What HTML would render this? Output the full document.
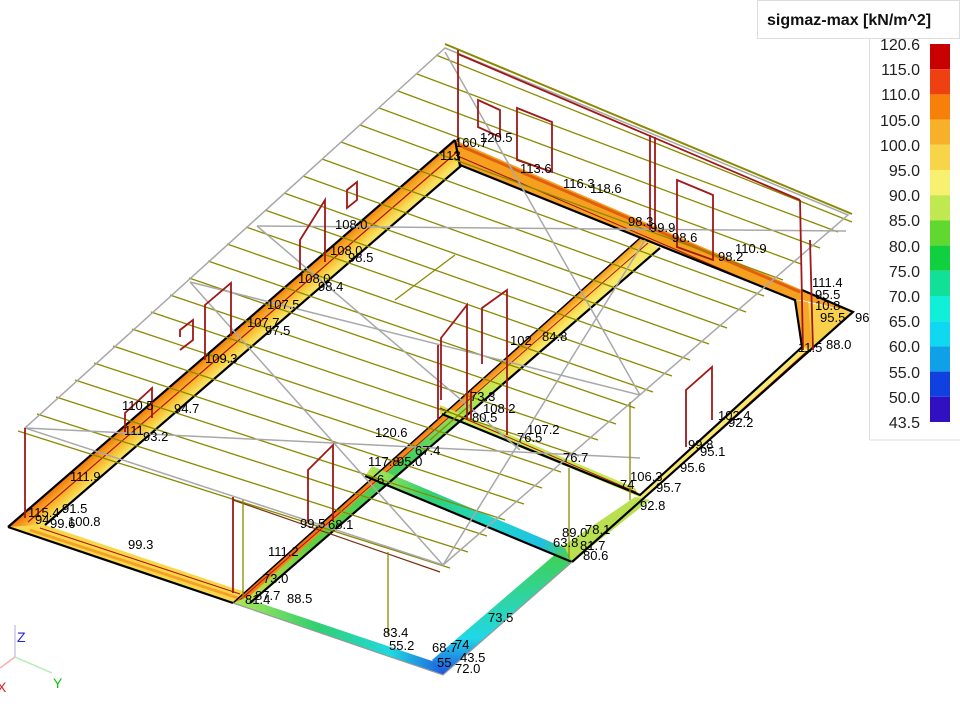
<!DOCTYPE html>
<html><head><meta charset="utf-8"><style>
html,body{margin:0;padding:0;background:#fff;}
svg{display:block;font-family:"Liberation Sans",sans-serif;}
.l{font-size:13px;fill:#000;}
.lg{font-size:16px;fill:#222;}
</style></head><body>
<svg width="960" height="720" viewBox="0 0 960 720" xmlns="http://www.w3.org/2000/svg">
<defs>
<linearGradient id="gL" gradientUnits="userSpaceOnUse" x1="230" y1="333" x2="244" y2="349"><stop offset="0" stop-color="#f07010"/><stop offset="0.35" stop-color="#f6a020"/><stop offset="0.7" stop-color="#f8c438"/><stop offset="1" stop-color="#f8e060"/></linearGradient>
<linearGradient id="gM" gradientUnits="userSpaceOnUse" x1="436" y1="420" x2="448" y2="433"><stop offset="0" stop-color="#f07010"/><stop offset="0.4" stop-color="#f6a828"/><stop offset="0.7" stop-color="#f8d448"/><stop offset="1" stop-color="#f8e868"/></linearGradient>
<linearGradient id="gMg" gradientUnits="userSpaceOnUse" x1="520" y1="335" x2="250" y2="590"><stop offset="0" stop-color="#f8e060" stop-opacity="0"/><stop offset="0.15" stop-color="#c8e850"/><stop offset="0.45" stop-color="#40d060"/><stop offset="0.8" stop-color="#60d040"/><stop offset="1" stop-color="#c0e050"/></linearGradient>
<linearGradient id="gB" x1="0" y1="0" x2="1" y2="0"><stop offset="0" stop-color="#c0e850"/><stop offset="0.3" stop-color="#30d070"/><stop offset="0.6" stop-color="#20d8d0"/><stop offset="0.85" stop-color="#20c0e0"/><stop offset="1" stop-color="#50d050"/></linearGradient>
<linearGradient id="gBL" x1="0" y1="0" x2="1" y2="0"><stop offset="0" stop-color="#b0e858"/><stop offset="0.4" stop-color="#30d070"/><stop offset="0.75" stop-color="#20d8e0"/><stop offset="1" stop-color="#2060e0"/></linearGradient>
<linearGradient id="gR" x1="0" y1="1" x2="0" y2="0"><stop offset="0" stop-color="#2050e0"/><stop offset="0.3" stop-color="#20d8e8"/><stop offset="1" stop-color="#40d050"/></linearGradient>
</defs>

<!-- FOUNDATION STRIPS -->
<polygon points="8,527 455,140 462,165 45,525" fill="url(#gL)"/>
<line x1="28" y1="522" x2="457" y2="152" stroke="#b01010" stroke-width="1.2"/>
<polygon points="8,527 233,603 245,592 45,525" fill="#f8d848"/>
<line x1="30" y1="530" x2="238" y2="598" stroke="#f6a02a" stroke-width="3"/>
<line x1="40" y1="528" x2="240" y2="594" stroke="#b01010" stroke-width="1"/>
<polygon points="455,140 802,290 853,312 802,300 795,300 460,165" fill="#f6a020"/>
<line x1="456" y1="144" x2="800" y2="292" stroke="#e06010" stroke-width="3"/>
<line x1="460" y1="157" x2="798" y2="302" stroke="#a01010" stroke-width="1"/>
<polygon points="795,300 853,312 808,350 802,347" fill="#f8d04a"/>
<polygon points="795,300 808,302 812,348 802,347" fill="#f6a828"/>
<polygon points="853,312 572,562 560,548 640,495 802,347 808,350" fill="#f6e870"/>
<line x1="806" y1="352" x2="645" y2="497" stroke="#b01010" stroke-width="1"/>
<polygon points="572,562 560,548 635,497 650,500" fill="#b8e050"/>
<!-- middle strip -->
<polygon points="233,603 640,238 660,248 250,603" fill="url(#gM)"/>
<polygon points="242,603 644,242 660,248 250,603" fill="url(#gMg)"/>
<line x1="240" y1="600" x2="648" y2="243" stroke="#b01010" stroke-width="1"/>
<polygon points="440,405 635,488 640,497 440,414" fill="#c8e850"/>
<line x1="440" y1="408" x2="636" y2="492" stroke="#b01010" stroke-width="1"/>
<polygon points="372,466 565,548 572,562 365,476" fill="url(#gB)"/>
<polygon points="572,562 443,675 432,660 558,552" fill="url(#gR)"/>
<polygon points="443,675 233,603 245,598 435,662" fill="url(#gBL)"/>

<g stroke="#000" stroke-width="2.2" fill="none">
<polyline points="8,527 455,140"/>
<polyline points="8,527 233,603"/>
<polyline points="460,165 795,300 802,347 640,495 442,414"/>
<polyline points="460,166 455,140"/>
<polyline points="802,290 853,312 572,562"/>
<polyline points="45,525 462,165"/>
<polyline points="250,603 660,248"/>
<polyline points="365,476 572,562"/>
<polyline points="233,603 640,238" stroke-width="1.5"/>
</g>
<g stroke="#999" stroke-width="1.2" fill="none">
<polyline points="233,603 443,675 572,562"/>
</g>

<g stroke="#8a8a00" stroke-width="1.3">
<line x1="18" y1="431" x2="450" y2="568"/>
<line x1="37" y1="414" x2="468" y2="552"/>
<line x1="56" y1="397" x2="487" y2="536"/>
<line x1="75" y1="380" x2="505" y2="520"/>
<line x1="94" y1="363" x2="524" y2="504"/>
<line x1="113" y1="346" x2="542" y2="488"/>
<line x1="132" y1="329" x2="561" y2="472"/>
<line x1="151" y1="312" x2="579" y2="456"/>
<line x1="170" y1="295" x2="598" y2="440"/>
<line x1="189" y1="278" x2="616" y2="424"/>
<line x1="208" y1="261" x2="635" y2="408"/>
<line x1="227" y1="244" x2="653" y2="392"/>
<line x1="246" y1="227" x2="672" y2="376"/>
<line x1="265" y1="210" x2="690" y2="360"/>
<line x1="284" y1="193" x2="709" y2="344"/>
<line x1="303" y1="176" x2="727" y2="328"/>
<line x1="322" y1="159" x2="746" y2="312"/>
<line x1="341" y1="142" x2="764" y2="296"/>
<line x1="360" y1="125" x2="783" y2="280"/>
<line x1="379" y1="108" x2="801" y2="264"/>
<line x1="398" y1="91" x2="820" y2="248"/>
<line x1="417" y1="74" x2="838" y2="232"/>
<line x1="436" y1="55" x2="852" y2="222"/>
<line x1="395" y1="300" x2="455" y2="255"/>
<line x1="430" y1="440" x2="470" y2="405"/>
</g>
<g stroke="#a8a8a8" stroke-width="1.5" fill="none">
<polygon points="445,48 848,215 443,565 25,428"/>
<line x1="445" y1="52" x2="640" y2="395"/>
<line x1="257" y1="226" x2="846" y2="231"/>
<line x1="190" y1="282" x2="443" y2="565"/>
<line x1="190" y1="282" x2="640" y2="395"/>
<line x1="25" y1="428" x2="640" y2="458"/>
<line x1="257" y1="226" x2="520" y2="450"/>
<line x1="443" y1="565" x2="645" y2="240"/>
</g>
<line x1="233" y1="500" x2="440" y2="572" stroke="#7a3010" stroke-width="1.2"/>
<line x1="445" y1="44" x2="852" y2="214" stroke="#8a8a00" stroke-width="2"/>

<g stroke="#a01818" stroke-width="1.8" fill="none">
<line x1="458" y1="50" x2="458" y2="142"/>
<line x1="458" y1="54" x2="800" y2="200"/>
<line x1="800" y1="200" x2="803" y2="350"/>
<line x1="810" y1="240" x2="813" y2="350"/>
<line x1="650" y1="135" x2="650" y2="230"/>
<line x1="655" y1="137" x2="655" y2="230"/>
<line x1="25" y1="428" x2="25" y2="518"/>
<line x1="233" y1="497" x2="233" y2="593"/>
<line x1="438" y1="420" x2="438" y2="345"/>
<polygon points="478,100 500,110 500,137 478,127"/>
<polygon points="517,108 552,122 552,172 517,160"/>
<polygon points="677,180 713,195 713,260 677,247"/>
<polygon points="347,190 357,182 357,200 347,208"/>
<polyline points="300,270 300,240 325,200 325,262"/>
<polyline points="180,337 180,330 193,320 193,340 180,350"/>
<polyline points="205,360 205,305 231,283 231,336"/>
<polyline points="125,432 125,413 152,388 152,418"/>
<polyline points="308,522 308,470 333,445 333,520"/>
<polyline points="441,400 441,338 467,305 467,420"/>
<polyline points="482,364 482,308 507,290 507,435"/>
<polyline points="686,447 686,390 712,367 712,420"/>
<line x1="471" y1="390" x2="471" y2="420"/>
</g>
<g stroke="#8a8a00" stroke-width="1.3">
<line x1="243" y1="500" x2="243" y2="598"/>
<line x1="388" y1="552" x2="388" y2="635"/>
<line x1="630" y1="402" x2="630" y2="500"/>
<line x1="569" y1="468" x2="569" y2="558"/>
</g>

<g class="l">
<text x="455" y="147">160.7</text><text x="480" y="142">120.5</text>
<text x="440" y="160">113</text>
<text x="520" y="173">113.6</text><text x="563" y="188">116.3</text><text x="590" y="193">118.6</text>
<text x="628" y="226">98.3</text><text x="650" y="232">99.9</text><text x="672" y="242">98.6</text>
<text x="718" y="261">98.2</text><text x="735" y="253">110.9</text>
<text x="812" y="287">111.4</text><text x="815" y="299">95.5</text><text x="815" y="310">10.8</text><text x="820" y="322">95.5</text><text x="855" y="322">96</text>
<text x="826" y="349">88.0</text><text x="798" y="352">11.5</text>
<text x="335" y="229">108.0</text><text x="330" y="255">108.0</text><text x="348" y="262">98.5</text>
<text x="298" y="283">108.0</text><text x="318" y="291">98.4</text>
<text x="267" y="309">107.5</text><text x="247" y="327">107.7</text><text x="265" y="335">97.5</text>
<text x="205" y="363">109.3</text>
<text x="122" y="410">110.5</text><text x="174" y="413">94.7</text>
<text x="124" y="435">111</text><text x="143" y="441">93.2</text>
<text x="70" y="481">111.9</text>
<text x="28" y="517">115.4</text><text x="62" y="513">91.5</text><text x="35" y="524">94</text><text x="50" y="528">99.6</text><text x="68" y="526">100.8</text>
<text x="128" y="549">99.3</text>
<text x="268" y="556">111.2</text><text x="263" y="583">73.0</text><text x="255" y="600">87.7</text><text x="245" y="604">81.4</text><text x="287" y="603">88.5</text>
<text x="383" y="637">83.4</text><text x="389" y="650">55.2</text>
<text x="432" y="652">68.7</text><text x="455" y="649">74</text><text x="437" y="667">55</text><text x="460" y="662">43.5</text><text x="455" y="673">72.0</text>
<text x="488" y="622">73.5</text>
<text x="562" y="537">89.0</text><text x="553" y="547">63.8</text><text x="585" y="534">78.1</text><text x="580" y="550">81.7</text><text x="583" y="560">80.6</text>
<text x="630" y="481">106.3</text><text x="620" y="489">74</text><text x="656" y="492">95.7</text><text x="640" y="510">92.8</text>
<text x="680" y="472">95.6</text><text x="688" y="449">99.8</text><text x="700" y="456">95.1</text>
<text x="718" y="420">102.4</text><text x="728" y="427">92.2</text>
<text x="470" y="401">73.3</text><text x="483" y="413">108.2</text><text x="472" y="422">80.5</text>
<text x="527" y="434">107.2</text><text x="517" y="442">76.5</text><text x="563" y="462">76.7</text>
<text x="542" y="341">84.8</text><text x="510" y="345">102</text>
<text x="375" y="437">120.6</text><text x="415" y="455">67.4</text><text x="368" y="466">117.8</text><text x="397" y="466">95.0</text><text x="377" y="484">6</text>
<text x="300" y="528">99.5</text><text x="328" y="529">68.1</text>
</g>

<line x1="15" y1="657" x2="15" y2="625" stroke="#c8c8f0" stroke-width="1.5"/>
<line x1="15" y1="657" x2="52" y2="673" stroke="#b8f0b8" stroke-width="1.5"/>
<line x1="15" y1="657" x2="0" y2="668" stroke="#f4b0b0" stroke-width="1.5"/>
<text x="17" y="642" font-size="14" fill="#2020e0">Z</text>
<text x="53" y="688" font-size="14" fill="#10c010">Y</text>
<text x="-3" y="692" font-size="14" fill="#e02020">X</text>

<rect x="757.5" y="0.5" width="202" height="38" fill="#fff" stroke="#ddd"/>
<text x="767" y="25" font-size="16" font-weight="bold" fill="#111">sigmaz-max [kN/m^2]</text>
<line x1="869.5" y1="38" x2="869.5" y2="440" stroke="#ddd"/>
<line x1="869.5" y1="440" x2="960" y2="440" stroke="#ddd"/>
<g>
<rect x="930" y="44" width="20" height="25.2" fill="#c80000"/>
<rect x="930" y="69.2" width="20" height="25.2" fill="#ee4010"/>
<rect x="930" y="94.4" width="20" height="25.2" fill="#f6800a"/>
<rect x="930" y="119.6" width="20" height="25.2" fill="#f6b02a"/>
<rect x="930" y="144.8" width="20" height="25.2" fill="#f8d448"/>
<rect x="930" y="170" width="20" height="25.2" fill="#f8f070"/>
<rect x="930" y="195.2" width="20" height="25.2" fill="#c0e850"/>
<rect x="930" y="220.4" width="20" height="25.2" fill="#60d830"/>
<rect x="930" y="245.6" width="20" height="25.2" fill="#10d040"/>
<rect x="930" y="270.8" width="20" height="25.2" fill="#10e098"/>
<rect x="930" y="296" width="20" height="25.2" fill="#10f0d8"/>
<rect x="930" y="321.2" width="20" height="25.2" fill="#10d8f0"/>
<rect x="930" y="346.4" width="20" height="25.2" fill="#10a0e8"/>
<rect x="930" y="371.6" width="20" height="25.2" fill="#1040e0"/>
<rect x="930" y="396.8" width="20" height="25.2" fill="#3010c0"/>
</g>
<g class="lg" text-anchor="end">
<text x="920" y="50">120.6</text><text x="920" y="75">115.0</text><text x="920" y="100">110.0</text>
<text x="920" y="126">105.0</text><text x="920" y="151">100.0</text><text x="920" y="176">95.0</text>
<text x="920" y="201">90.0</text><text x="920" y="226">85.0</text><text x="920" y="252">80.0</text>
<text x="920" y="277">75.0</text><text x="920" y="302">70.0</text><text x="920" y="327">65.0</text>
<text x="920" y="352">60.0</text><text x="920" y="378">55.0</text><text x="920" y="403">50.0</text>
<text x="920" y="428">43.5</text>
</g>
</svg>
</body></html>
